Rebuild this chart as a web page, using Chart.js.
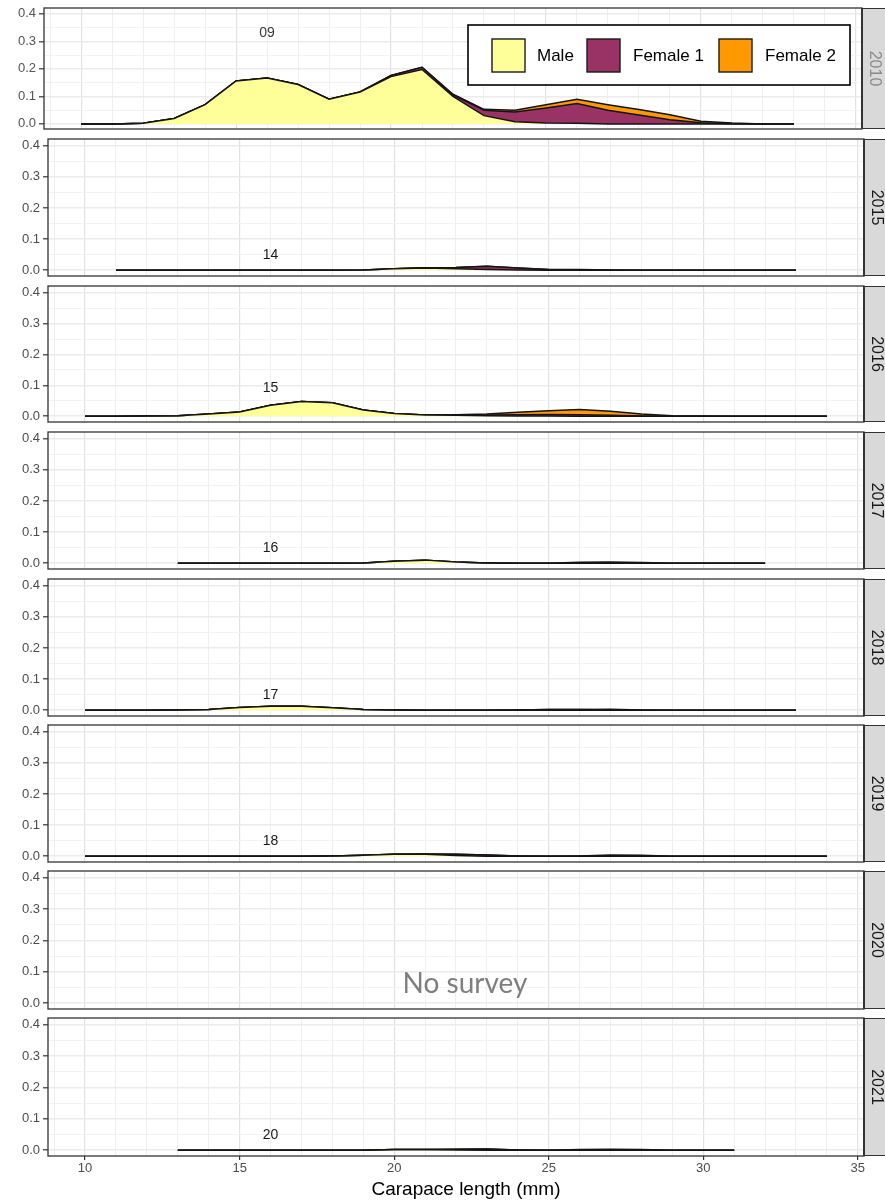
<!DOCTYPE html>
<html>
<head>
<meta charset="utf-8">
<title>Carapace length distributions by year</title>
<script src="https://cdn.jsdelivr.net/npm/chart.js@4.4.1/dist/chart.umd.min.js"></script>
<style>
  html, body { margin: 0; padding: 0; background: #ffffff; }
  #wrap { position: relative; width: 885px; height: 1200px; overflow: hidden; background: #ffffff; }
  #wrap canvas { position: absolute; left: 0; }
</style>
</head>
<body>
<div id="wrap"></div>
<script>
// ---- Data: proportion by carapace length (mm) class, per survey year ----
const years = ['2010', '2015', '2016', '2017', '2018', '2019', '2020', '2021'];
const panelTags = ['09', '14', '15', '16', '17', '18', null, '20'];
const tagHeights = [0.33, 0.047, 0.092, 0.048, 0.048, 0.048, null, 0.048];
const tagLength = 16;
const seriesNames = ['Male', 'Female 1', 'Female 2'];
const seriesColors = ['#FFFF99', '#993366', '#FF9900'];

const len2010 = [10, 11, 12, 13, 14, 15, 16, 17, 18, 19, 20, 21, 22, 23, 24, 25, 26, 27, 28, 29, 30, 31, 32, 33];
const male2010 = [0, 0, 0.002, 0.02, 0.07, 0.156, 0.167, 0.143, 0.09, 0.116, 0.172, 0.198, 0.1, 0.03, 0.008, 0.003, 0.002, 0, 0, 0, 0, 0, 0, 0];
const fem1_2010 = [0, 0, 0, 0, 0, 0, 0, 0, 0, 0, 0.004, 0.008, 0.006, 0.02, 0.035, 0.055, 0.072, 0.05, 0.032, 0.015, 0.004, 0.001, 0, 0];
const fem2_2010 = [0, 0, 0, 0, 0, 0, 0, 0, 0, 0, 0, 0, 0.002, 0.003, 0.007, 0.012, 0.016, 0.02, 0.02, 0.018, 0.006, 0.002, 0, 0];

const len2015 = [11, 12, 13, 14, 15, 16, 17, 18, 19, 20, 21, 22, 23, 24, 25, 26, 27, 28, 29, 30, 31, 32, 33];
const male2015 = [0, 0, 0, 0, 0, 0, 0, 0, 0.001, 0.005, 0.007, 0.005, 0.002, 0.001, 0, 0, 0, 0, 0, 0, 0, 0, 0];
const fem1_2015 = [0, 0, 0, 0, 0, 0, 0, 0, 0, 0, 0.001, 0.004, 0.011, 0.006, 0.002, 0.001, 0, 0, 0, 0, 0, 0, 0];
const fem2_2015 = [0, 0, 0, 0, 0, 0, 0, 0, 0, 0, 0, 0, 0, 0, 0, 0.001, 0.001, 0, 0, 0, 0, 0, 0];

const len2016 = [10, 11, 12, 13, 14, 15, 16, 17, 18, 19, 20, 21, 22, 23, 24, 25, 26, 27, 28, 29, 30, 31, 32, 33, 34];
const male2016 = [0, 0, 0.001, 0.002, 0.007, 0.014, 0.036, 0.048, 0.044, 0.02, 0.009, 0.004, 0.003, 0.002, 0.001, 0.001, 0, 0, 0, 0, 0, 0, 0, 0, 0];
const fem1_2016 = [0, 0, 0, 0, 0, 0, 0, 0, 0, 0, 0, 0, 0.001, 0.002, 0.004, 0.005, 0.005, 0.003, 0.001, 0, 0, 0, 0, 0, 0];
const fem2_2016 = [0, 0, 0, 0, 0, 0, 0, 0, 0, 0, 0, 0, 0.001, 0.003, 0.008, 0.012, 0.017, 0.013, 0.006, 0.002, 0.001, 0, 0, 0, 0];

const len2017 = [13, 14, 15, 16, 17, 18, 19, 20, 21, 22, 23, 24, 25, 26, 27, 28, 29, 30, 31, 32];
const male2017 = [0, 0, 0, 0, 0, 0, 0.001, 0.006, 0.01, 0.004, 0.001, 0, 0, 0, 0, 0, 0, 0, 0, 0];
const fem1_2017 = [0, 0, 0, 0, 0, 0, 0, 0, 0, 0, 0, 0, 0, 0.001, 0.001, 0, 0, 0, 0, 0];
const fem2_2017 = [0, 0, 0, 0, 0, 0, 0, 0, 0, 0, 0, 0, 0, 0.002, 0.003, 0.002, 0, 0, 0, 0];

const len2018 = [10, 11, 12, 13, 14, 15, 16, 17, 18, 19, 20, 21, 22, 23, 24, 25, 26, 27, 28, 29, 30, 31, 32, 33];
const male2018 = [0, 0, 0, 0.001, 0.002, 0.009, 0.013, 0.013, 0.008, 0.002, 0.001, 0, 0, 0, 0, 0, 0, 0, 0, 0, 0, 0, 0, 0];
const fem1_2018 = [0, 0, 0, 0, 0, 0, 0, 0, 0, 0, 0, 0, 0, 0, 0.001, 0.002, 0.002, 0.001, 0, 0, 0, 0, 0, 0];
const fem2_2018 = [0, 0, 0, 0, 0, 0, 0, 0, 0, 0, 0, 0, 0, 0, 0, 0, 0, 0.002, 0.001, 0, 0, 0, 0, 0];

const len2019 = [10, 11, 12, 13, 14, 15, 16, 17, 18, 19, 20, 21, 22, 23, 24, 25, 26, 27, 28, 29, 30, 31, 32, 33, 34];
const male2019 = [0, 0, 0, 0, 0, 0, 0, 0, 0.001, 0.003, 0.006, 0.006, 0.002, 0, 0, 0, 0, 0, 0, 0, 0, 0, 0, 0, 0];
const fem1_2019 = [0, 0, 0, 0, 0, 0, 0, 0, 0, 0, 0, 0.001, 0.004, 0.004, 0.001, 0, 0, 0, 0, 0, 0, 0, 0, 0, 0];
const fem2_2019 = [0, 0, 0, 0, 0, 0, 0, 0, 0, 0, 0, 0, 0, 0, 0, 0, 0.001, 0.004, 0.003, 0, 0, 0, 0, 0, 0];

const len2020 = [];
const male2020 = [];
const fem1_2020 = [];
const fem2_2020 = [];

const len2021 = [13, 14, 15, 16, 17, 18, 19, 20, 21, 22, 23, 24, 25, 26, 27, 28, 29, 30, 31];
const male2021 = [0, 0, 0, 0, 0, 0, 0, 0.002, 0.002, 0.001, 0, 0, 0, 0, 0, 0, 0, 0, 0];
const fem1_2021 = [0, 0, 0, 0, 0, 0, 0, 0, 0, 0.002, 0.004, 0.001, 0, 0, 0, 0, 0, 0, 0];
const fem2_2021 = [0, 0, 0, 0, 0, 0, 0, 0, 0, 0, 0, 0, 0, 0.002, 0.003, 0.002, 0, 0, 0];

// Axis ticks
const xGridValues = [9, 10, 11, 12, 13, 14, 15, 16, 17, 18, 19, 20, 21, 22, 23, 24, 25, 26, 27, 28, 29, 30, 31, 32, 33, 34, 35];
const xLabelValues = [10, 15, 20, 25, 30, 35];
const xTickLabels = ['10', '15', '20', '25', '30', '35'];
const yGridValues = [0, 0.05, 0.1, 0.15, 0.2, 0.25, 0.3, 0.35, 0.4];
const yLabelValues = [0, 0.1, 0.2, 0.3, 0.4];
const yTickLabels = ['0.0', '0.1', '0.2', '0.3', '0.4'];
const xTitle = 'Carapace length (mm)';
const missingNote = 'No survey';

const panelData = [
  [len2010, male2010, fem1_2010, fem2_2010],
  [len2015, male2015, fem1_2015, fem2_2015],
  [len2016, male2016, fem1_2016, fem2_2016],
  [len2017, male2017, fem1_2017, fem2_2017],
  [len2018, male2018, fem1_2018, fem2_2018],
  [len2019, male2019, fem1_2019, fem2_2019],
  [len2020, male2020, fem1_2020, fem2_2020],
  [len2021, male2021, fem1_2021, fem2_2021]
];

// ---- Layout of the facet panels (page pixels) ----
const panelBoxes = [
  { y0: 0,    y1: 134,  top: 8,    bottom: 129,  left: 44, right: 862 },
  { y0: 134,  y1: 281,  top: 139,  bottom: 276,  left: 48, right: 864 },
  { y0: 281,  y1: 427,  top: 286,  bottom: 422,  left: 48, right: 864 },
  { y0: 427,  y1: 574,  top: 432,  bottom: 569,  left: 48, right: 864 },
  { y0: 574,  y1: 720,  top: 579,  bottom: 716,  left: 48, right: 864 },
  { y0: 720,  y1: 866,  top: 725,  bottom: 862,  left: 48, right: 864 },
  { y0: 866,  y1: 1013, top: 871,  bottom: 1009, left: 48, right: 864 },
  { y0: 1013, y1: 1200, top: 1018, bottom: 1156, left: 48, right: 864 }
];
const PAGE_W = 885;
const X_MIN = 8.8, X_MAX = 35.2, Y_MIN = -0.0185, Y_MAX = 0.4215;
const FONT = '"Liberation Sans", Arial, sans-serif';

function isMajorY(v) { return yLabelValues.some(t => Math.abs(t - v) < 1e-9); }
function isMajorX(v) { return xLabelValues.indexOf(v) >= 0; }

// Panel decorations: frame, facet strip, size-class tag, legend, notes
const facetDecor = {
  id: 'facetDecor',
  afterDatasetsDraw(chart, args, opts) {
    const ctx = chart.ctx;
    const xs = chart.scales.x, ys = chart.scales.y;
    if (opts.tag) {
      ctx.save();
      ctx.fillStyle = opts.first ? '#3a3a3a' : '#1a1a1a';
      ctx.font = '14px ' + FONT;
      ctx.textAlign = 'center';
      ctx.textBaseline = 'middle';
      ctx.fillText(opts.tag, xs.getPixelForValue(tagLength), ys.getPixelForValue(opts.tagY));
      ctx.restore();
    }
  },
  afterDraw(chart, args, opts) {
    const ctx = chart.ctx;
    const a = chart.chartArea;
    const ys = chart.scales.y;
    ctx.save();
    // facet strip on the right
    ctx.fillStyle = '#d9d9d9';
    ctx.fillRect(a.right, a.top, PAGE_W - a.right + 2, a.bottom - a.top);
    ctx.strokeStyle = '#333333';
    ctx.lineWidth = 1;
    ctx.strokeRect(a.right + 0.5, a.top + 0.5, PAGE_W - a.right + 4, a.bottom - a.top - 1);
    ctx.save();
    ctx.translate(a.right + 12, (a.top + a.bottom) / 2);
    ctx.rotate(Math.PI / 2);
    ctx.fillStyle = opts.first ? '#8a8a8a' : '#1a1a1a';
    ctx.font = '16px ' + FONT;
    ctx.textAlign = 'center';
    ctx.textBaseline = 'middle';
    ctx.fillText(opts.year, 0, 0);
    ctx.restore();
    // panel frame
    ctx.strokeStyle = '#333333';
    ctx.lineWidth = 1.3;
    ctx.strokeRect(a.left, a.top, a.right - a.left, a.bottom - a.top);
    ctx.lineWidth = 2;
    ctx.beginPath();
    ctx.moveTo(a.right, a.top);
    ctx.lineTo(a.right, a.bottom);
    ctx.stroke();

    if (opts.note) {
      ctx.fillStyle = '#7f7f7f';
      ctx.font = '28px Lato, "Open Sans", sans-serif';
      ctx.textAlign = 'center';
      ctx.textBaseline = 'middle';
      ctx.fillText(opts.note, 465, ys.getPixelForValue(0.06));
    }
    if (opts.legend) {
      const bx = 468, by = 25, bw = 382, bh = 60;
      ctx.fillStyle = '#ffffff';
      ctx.fillRect(bx, by, bw, bh);
      ctx.strokeStyle = '#000000';
      ctx.lineWidth = 1.6;
      ctx.strokeRect(bx, by, bw, bh);
      const swatchX = [492, 587, 719];
      const textX = [537, 633, 765];
      ctx.font = '17px ' + FONT;
      ctx.textAlign = 'left';
      ctx.textBaseline = 'middle';
      for (let i = 0; i < seriesNames.length; i++) {
        ctx.fillStyle = seriesColors[i];
        ctx.fillRect(swatchX[i], 39, 33, 33);
        ctx.strokeStyle = '#1a1a1a';
        ctx.lineWidth = 1.4;
        ctx.strokeRect(swatchX[i], 39, 33, 33);
        ctx.fillStyle = '#000000';
        ctx.fillText(seriesNames[i], textX[i], 56);
      }
    }
    if (opts.xTitle) {
      ctx.fillStyle = '#000000';
      ctx.font = '19px ' + FONT;
      ctx.textAlign = 'center';
      ctx.textBaseline = 'middle';
      ctx.fillText(opts.xTitle, 466, 1190 - (chart.canvas.offsetTop || 0));
    }
    ctx.restore();
  }
};

const wrap = document.getElementById('wrap');

years.forEach((year, p) => {
  const box = panelBoxes[p];
  const [lengths, male, fem1, fem2] = panelData[p];
  const isLast = p === years.length - 1;
  const first = p === 0;

  const canvas = document.createElement('canvas');
  canvas.width = PAGE_W;
  canvas.height = box.y1 - box.y0;
  canvas.style.top = box.y0 + 'px';
  canvas.style.width = PAGE_W + 'px';
  canvas.style.height = (box.y1 - box.y0) + 'px';
  wrap.appendChild(canvas);

  const seriesValues = [male, fem1, fem2];
  const datasets = seriesValues.map((vals, i) => ({
    label: seriesNames[i],
    data: lengths.map((x, k) => ({ x: x, y: vals[k] })),
    backgroundColor: seriesColors[i],
    borderColor: '#141414',
    borderWidth: 1.5,
    pointRadius: 0,
    tension: 0,
    fill: i === 0 ? 'origin' : '-1'
  }));

  const tickColor = first ? '#555555' : '#4d4d4d';

  new Chart(canvas, {
    type: 'line',
    data: { datasets: datasets },
    options: {
      responsive: false,
      animation: false,
      devicePixelRatio: 1,
      events: [],
      layout: { padding: { top: box.top - box.y0, right: PAGE_W - box.right, left: 0, bottom: 0 } },
      plugins: {
        legend: { display: false },
        tooltip: { enabled: false },
        facetDecor: {
          year: year,
          first: first,
          tag: panelTags[p],
          tagY: tagHeights[p],
          legend: first,
          note: lengths.length === 0 ? missingNote : null,
          xTitle: isLast ? xTitle : null
        }
      },
      scales: {
        x: {
          type: 'linear',
          min: X_MIN,
          max: X_MAX,
          afterBuildTicks: s => { s.ticks = xGridValues.map(v => ({ value: v })); },
          afterFit: s => {
            s.height = box.y1 - box.bottom;
            s.paddingLeft = 0; s.paddingRight = 0; s.paddingTop = 0; s.paddingBottom = 0;
          },
          border: { display: false },
          grid: {
            color: c => isMajorX(c.tick.value) ? '#e2e2e2' : '#efefef',
            lineWidth: c => isMajorX(c.tick.value) ? 1.2 : 1,
            drawTicks: isLast,
            tickLength: 4,
            tickWidth: 1.2,
            tickColor: c => isMajorX(c.tick.value) ? '#333333' : 'rgba(0,0,0,0)'
          },
          ticks: {
            display: isLast,
            autoSkip: false,
            maxRotation: 0,
            padding: 1,
            color: '#4d4d4d',
            font: { family: FONT, size: 13 },
            callback: v => { const i = xLabelValues.indexOf(v); return i >= 0 ? xTickLabels[i] : ''; }
          }
        },
        y: {
          type: 'linear',
          stacked: true,
          min: Y_MIN,
          max: Y_MAX,
          afterBuildTicks: s => { s.ticks = yGridValues.map(v => ({ value: v })); },
          afterFit: s => {
            s.width = box.left;
            s.paddingLeft = 0; s.paddingRight = 0; s.paddingTop = 0; s.paddingBottom = 0;
          },
          border: { display: false },
          grid: {
            color: c => isMajorY(c.tick.value) ? '#ebebeb' : '#f2f2f2',
            lineWidth: c => isMajorY(c.tick.value) ? 1.6 : 1,
            tickLength: 5,
            tickWidth: 1.2,
            tickColor: c => isMajorY(c.tick.value) ? '#333333' : 'rgba(0,0,0,0)'
          },
          ticks: {
            autoSkip: false,
            padding: 3,
            color: tickColor,
            font: { family: FONT, size: 13 },
            callback: v => {
              for (let i = 0; i < yLabelValues.length; i++) {
                if (Math.abs(yLabelValues[i] - v) < 1e-9) return yTickLabels[i];
              }
              return '';
            }
          }
        }
      }
    },
    plugins: [facetDecor]
  });
});
</script>
</body>
</html>
